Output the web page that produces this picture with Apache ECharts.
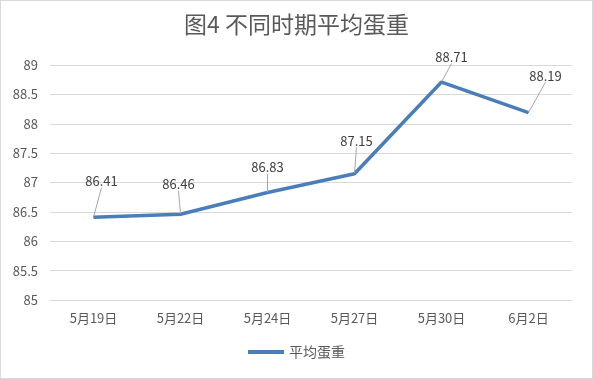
<!DOCTYPE html>
<html><head><meta charset="utf-8">
<script src="https://cdn.jsdelivr.net/npm/echarts@6/dist/echarts.min.js"></script>
<style>html,body{margin:0;padding:0;background:#fff}#c{width:591px;height:377px;border:1px solid #d9d9d9}</style>
</head><body><div id="c"></div>
<script>
const categories = ['5月19日','5月22日','5月24日','5月27日','5月30日','6月2日'];
const seriesName = '平均蛋重';
const values = [86.41, 86.46, 86.83, 87.15, 88.71, 88.19];
const yTicks = {min: 85, max: 89, interval: 0.5};
const labelOffsets = [[8,-24],[-2,-18],[0,-13],[2,-21],[10,-13],[17,-25]];

const chart = echarts.init(document.getElementById('c'));
const font = '"Noto Sans CJK SC", "Noto Sans", sans-serif';
chart.setOption({
  animation: false,
  title: {text: '图4 不同时期平均蛋重', left: 'center', top: 7,
    textStyle: {fontFamily: font, fontSize: 23, fontWeight: 'normal', color: '#595959'}},
  legend: {bottom: 14, left: 'center', itemWidth: 36, itemHeight: 4, icon: 'rect',
    textStyle: {fontFamily: font, fontSize: 14, color: '#595959'}, data: [seriesName]},
  grid: {left: 49, right: 20, top: 64, bottom: 78},
  xAxis: {type: 'category', data: categories, boundaryGap: true,
    axisLine: {lineStyle: {color: '#d9d9d9'}}, axisTick: {show: false},
    axisLabel: {fontFamily: font, fontSize: 13, color: '#595959', margin: 12}},
  yAxis: {type: 'value', min: yTicks.min, max: yTicks.max, interval: yTicks.interval,
    axisLine: {show: false}, axisTick: {show: false},
    splitLine: {lineStyle: {color: '#d9d9d9'}},
    axisLabel: {fontFamily: font, fontSize: 13, color: '#595959', margin: 12}},
  series: [{
    name: seriesName, type: 'line', data: values, symbol: 'circle', symbolSize: 1, showSymbol: true,
    lineStyle: {color: '#4a7ebb', width: 3.5}, itemStyle: {color: '#4a7ebb'},
    label: {show: true, position: 'top', distance: 5, fontFamily: font, fontSize: 13, color: '#404040'},
    labelLine: {show: true, lineStyle: {color: '#a6a6a6', width: 1}},
    labelLayout: function (p) { const o = labelOffsets[p.dataIndex]; return {dx: o[0], dy: o[1]}; }
  }]
});
</script></body></html>
